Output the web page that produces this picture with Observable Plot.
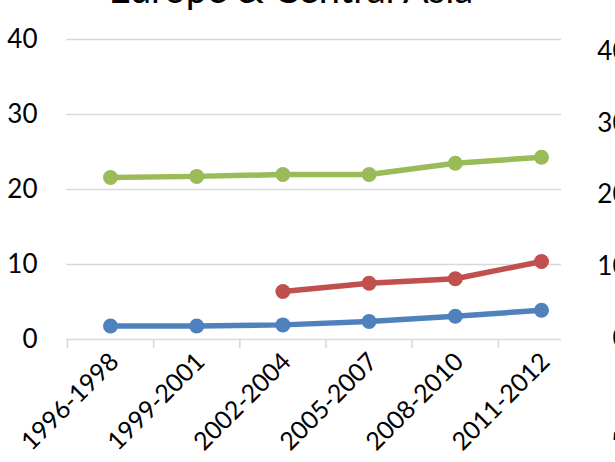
<!DOCTYPE html>
<html>
<head>
<meta charset="utf-8">
<script src="https://cdn.jsdelivr.net/npm/d3@7"></script>
<script src="https://cdn.jsdelivr.net/npm/@observablehq/plot@0.6"></script>
<style>
  html, body { margin: 0; padding: 0; background: #fff; overflow: hidden; }
  #wrap { position: relative; width: 615px; height: 462px; overflow: hidden; }
  #wrap > svg { position: absolute; top: 0; overflow: visible; }
</style>
</head>
<body>
<div id="wrap"></div>
<script>
// Periods on the x axis
const periods = ["1996-1998", "1999-2001", "2002-2004", "2005-2007", "2008-2010", "2011-2012"];

// Series values per period (null = no observation)
const blueSeries  = [1.8, 1.8, 1.95, 2.4, 3.1, 3.9];
const redSeries   = [null, null, 6.4, 7.5, 8.1, 10.4];
const greenSeries = [21.6, 21.75, 22.0, 22.0, 23.5, 24.3];

// Value axis ticks
const yTicks = [0, 10, 20, 30, 40];
const title = "Europe & Central Asia";

const series = [
  {name: "blue",  values: blueSeries,  color: "#4F81BD"},
  {name: "red",   values: redSeries,   color: "#C0504D"},
  {name: "green", values: greenSeries, color: "#9BBB59"}
];

const rows = series.flatMap(s =>
  s.values.map((v, i) => ({series: s.name, color: s.color, i, value: v}))
);

const font = "Lato, 'Open Sans', sans-serif";
const grid = "#d9d9d9";
const idx = periods.map((_, i) => i);
const bounds = periods.map((_, i) => i - 0.5);

const chart = Plot.plot({
  width: 615,
  height: 462,
  marginLeft: 66,
  marginRight: 54,
  marginTop: 39,
  marginBottom: 123,
  style: {fontFamily: font, fontSize: "26px", color: "#000", background: "transparent", overflow: "visible"},
  x: {type: "linear", domain: [0, 5], range: [110, 541]},
  y: {domain: [0, 40]},
  marks: [
    Plot.ruleY(yTicks, {stroke: grid, strokeWidth: 1.6}),
    Plot.axisY({ticks: yTicks, tickSize: 0, tickPadding: 29, fontSize: 26, label: null}),
    Plot.axisX({ticks: bounds, tickSize: 9, stroke: grid, strokeWidth: 1.6, tickFormat: () => "", label: null}),
    Plot.axisX({ticks: idx, tickSize: 0, tickPadding: 16, tickRotate: -45, fontSize: 25,
                dx: 4, dy: 2, tickFormat: i => periods[i], label: null}),
    ...series.map(s => Plot.line(rows.filter(r => r.series === s.name), {
      x: "i", y: "value", stroke: s.color, strokeWidth: 5.5, defined: d => d.value != null
    })),
    ...series.map(s => Plot.dot(rows.filter(r => r.series === s.name && r.value != null), {
      x: "i", y: "value", fill: s.color, r: 7.5
    })),
    Plot.text([title], {frameAnchor: "top", dx: -23, dy: -37, lineAnchor: "bottom",
                        fontSize: 38, fill: "#000"})
  ]
});

// Neighbouring panel: only its value axis and first period label reach into view
const neighbour = Plot.plot({
  width: 615,
  height: 462,
  marginLeft: 66,
  marginRight: 54,
  marginTop: 51,
  marginBottom: 124,
  style: {fontFamily: font, fontSize: "26px", color: "#000", background: "transparent", overflow: "visible"},
  x: {type: "linear", domain: [0, 5], range: [110, 541]},
  y: {domain: [0, 40]},
  marks: [
    Plot.axisY({ticks: yTicks, tickSize: 0, tickPadding: 29, fontSize: 26, label: null}),
    Plot.axisX({ticks: idx, tickSize: 0, tickPadding: 16, tickRotate: -45, fontSize: 25,
                dx: 4, dy: 2, tickFormat: i => periods[i], label: null})
  ]
});

const wrap = document.getElementById("wrap");
chart.style.left = "0px";
neighbour.style.left = "590px";
wrap.appendChild(chart);
wrap.appendChild(neighbour);
</script>
</body>
</html>
